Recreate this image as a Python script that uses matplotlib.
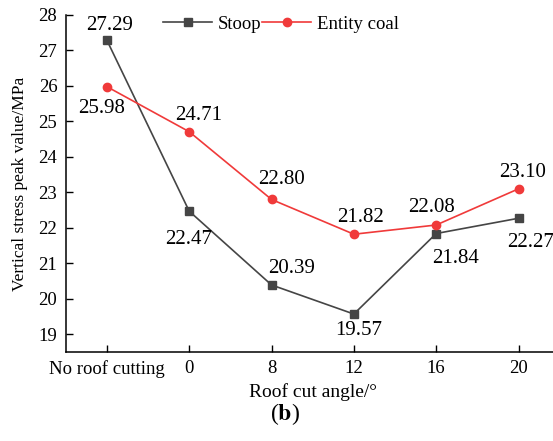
import matplotlib
matplotlib.use("Agg")
import matplotlib.pyplot as plt

plt.rcParams["font.family"] = ["Liberation Serif", "DejaVu Serif"]
plt.rcParams["mathtext.fontset"] = "stix"

categories = ["No roof cutting", "0", "8", "12", "16", "20"]
stoop = [27.29, 22.47, 20.39, 19.57, 21.84, 22.27]
entity_coal = [25.98, 24.71, 22.80, 21.82, 22.08, 23.10]
y_ticks = [19, 20, 21, 22, 23, 24, 25, 26, 27, 28]

# label offsets in pixels (dx right, dy down)
stoop_offsets = [(3, -15), (-1, 28), (20, -16), (5, 16), (19, 25), (12, 24)]
coal_offsets = [(-5, 22), (9, -16), (10, -20), (7, -17), (-5, -18), (4, -16)]

GRAY = "#454545"
RED = "#f03a3a"

fig = plt.figure(figsize=(5.53, 4.41), dpi=100)
ax = fig.add_axes([0.1188, 0.2018, 0.8933, 0.7642])

x = list(range(len(categories)))
ax.plot(x, stoop, color=GRAY, lw=1.2, marker="s", ms=5.5, label="Stoop")
ax.plot(x, entity_coal, color=RED, lw=1.2, marker="o", ms=6, label="Entity coal")

for xi, v, (dx, dy) in zip(x, stoop, stoop_offsets):
    ax.annotate("{:.2f}".format(v), (xi, v), xytext=(dx * 0.72, -dy * 0.72),
                textcoords="offset points", ha="center", va="center", fontsize=15)
for xi, v, (dx, dy) in zip(x, entity_coal, coal_offsets):
    ax.annotate("{:.2f}".format(v), (xi, v), xytext=(dx * 0.72, -dy * 0.72),
                textcoords="offset points", ha="center", va="center", fontsize=15)

ax.set_xlim(-0.5, 5.5)
ax.set_ylim(18.5, 28)
ax.set_xticks(x)
ax.set_xticklabels(categories)
ax.set_yticks(y_ticks)
ax.tick_params(direction="in", length=5, width=1, labelsize=13.5, pad=6)
for s in ["top", "right"]:
    ax.spines[s].set_visible(False)
for s in ["left", "bottom"]:
    ax.spines[s].set_linewidth(1.1)

ax.set_xlabel("Roof cut angle/\u00b0", fontsize=14)
ax.xaxis.label.set_va("center")
ax.xaxis.set_label_coords(0.5, -0.118)
ax.set_ylabel("Vertical stress peak value/MPa", fontsize=12.5)
ax.yaxis.label.set_va("center")
ax.yaxis.set_label_coords(-0.0925, 0.5)

ax.legend(loc="center", bbox_to_anchor=(0.436, 0.973), ncol=2, frameon=False,
          fontsize=13.5, handlelength=2.6, handletextpad=0.3, columnspacing=0.05,
          borderpad=0)

fig.text(0.515, 0.062, r"($\mathbf{b}$)", ha="center", va="center", fontsize=17)

fig.savefig("out.png", dpi=100)
